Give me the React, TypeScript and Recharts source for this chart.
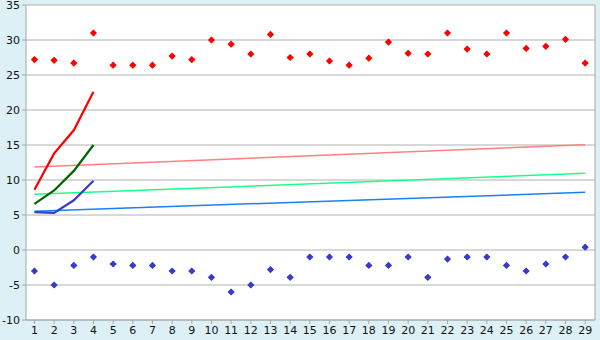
import React from 'react';
import {
  ComposedChart,
  Line,
  Scatter,
  XAxis,
  YAxis,
  CartesianGrid,
  ReferenceLine,
} from 'recharts';

const days = [1, 2, 3, 4, 5, 6, 7, 8, 9, 10, 11, 12, 13, 14, 15, 16, 17, 18, 19, 20, 21, 22, 23, 24, 25, 26, 27, 28, 29];
const highs = [27.2, 27.1, 26.7, 31, 26.4, 26.4, 26.4, 27.7, 27.2, 30, 29.4, 28, 30.8, 27.5, 28, 27, 26.4, 27.4, 29.7, 28.1, 28, 31, 28.7, 28, 31, 28.8, 29.1, 30.1, 26.7];
const lows = [-3, -5, -2.2, -1, -2, -2.2, -2.2, -3, -3, -3.9, -6, -5, -2.8, -3.9, -1, -1, -1, -2.2, -2.2, -1, -3.9, -1.3, -1, -1, -2.2, -3, -2, -1, 0.4];

const shortDays = [1, 2, 3, 4];
const redSeries = [8.6, 13.8, 17.1, 22.6];
const greenSeries = [6.6, 8.5, 11.3, 15];
const blueSeries = [5.4, 5.3, 7.1, 9.9];

const trendDays = [1, 29];
const pinkTrend = [11.86, 15.04];
const mintTrend = [7.95, 10.95];
const skyTrend = [5.55, 8.24];

const yTicks = [-10, -5, 0, 5, 10, 15, 20, 25, 30, 35];

const highData = days.map((x, i) => ({ x, y: highs[i] }));
const lowData = days.map((x, i) => ({ x, y: lows[i] }));
const pair = (xs: number[], ys: number[]) => xs.map((x, i) => ({ x, y: ys[i] }));

// small pixel-style diamond with a thicker centre, like the original markers
const Diamond = (color: string) => (props: any) => {
  const { cx, cy } = props;
  if (cx == null || cy == null) return null;
  const r = 3.6;
  return (
    <g>
      <polygon
        points={`${cx},${cy - r} ${cx + r},${cy} ${cx},${cy + r} ${cx - r},${cy}`}
        fill={color}
      />
      <rect x={cx - 2.5} y={cy - 1} width={5} height={2} fill={color} />
      <rect x={cx - 1} y={cy - 2.5} width={2} height={5} fill={color} />
    </g>
  );
};

const tickStyle = { fill: '#111', fontSize: 11, fontFamily: 'DejaVu Sans' };

export default function App() {
  return (
    <div style={{ position: 'absolute', left: 0, top: 0, width: 600, height: 340, background: '#dcf0f6' }}>
      <ComposedChart width={600} height={340} margin={{ top: 5, right: 5, bottom: 0, left: 0 }}>
        <CartesianGrid vertical={false} stroke="#b0b0b0" fill="#fff" />
        <XAxis
          type="number"
          dataKey="x"
          domain={[0.57, 29.5]}
          ticks={days}
          interval={0}
          height={20}
          stroke="#a8a8a8"
          tickSize={4}
          tick={tickStyle}
          allowDuplicatedCategory={false}
        />
        <YAxis
          type="number"
          domain={[-10, 35]}
          ticks={yTicks}
          width={26}
          stroke="#a8a8a8"
          tickSize={4}
          tick={tickStyle}
          interval={0}
        />
        <ReferenceLine x={29.5} stroke="#a8a8a8" />
        <Line data={pair(trendDays, pinkTrend)} dataKey="y" stroke="#ff8080" strokeWidth={1.5} dot={false} isAnimationActive={false} />
        <Line data={pair(trendDays, mintTrend)} dataKey="y" stroke="#1aff88" strokeWidth={1.5} dot={false} isAnimationActive={false} />
        <Line data={pair(trendDays, skyTrend)} dataKey="y" stroke="#1a82f0" strokeWidth={1.5} dot={false} isAnimationActive={false} />
        <Line data={pair(shortDays, redSeries)} dataKey="y" stroke="#ff0000" strokeWidth={2.2} dot={false} isAnimationActive={false} />
        <Line data={pair(shortDays, greenSeries)} dataKey="y" stroke="#006400" strokeWidth={2.2} dot={false} isAnimationActive={false} />
        <Line data={pair(shortDays, blueSeries)} dataKey="y" stroke="#3a3acc" strokeWidth={2.2} dot={false} isAnimationActive={false} />
        <Scatter data={highData} dataKey="y" shape={Diamond('#ff0000')} isAnimationActive={false} />
        <Scatter data={lowData} dataKey="y" shape={Diamond('#3a3acc')} isAnimationActive={false} />
      </ComposedChart>
    </div>
  );
}
